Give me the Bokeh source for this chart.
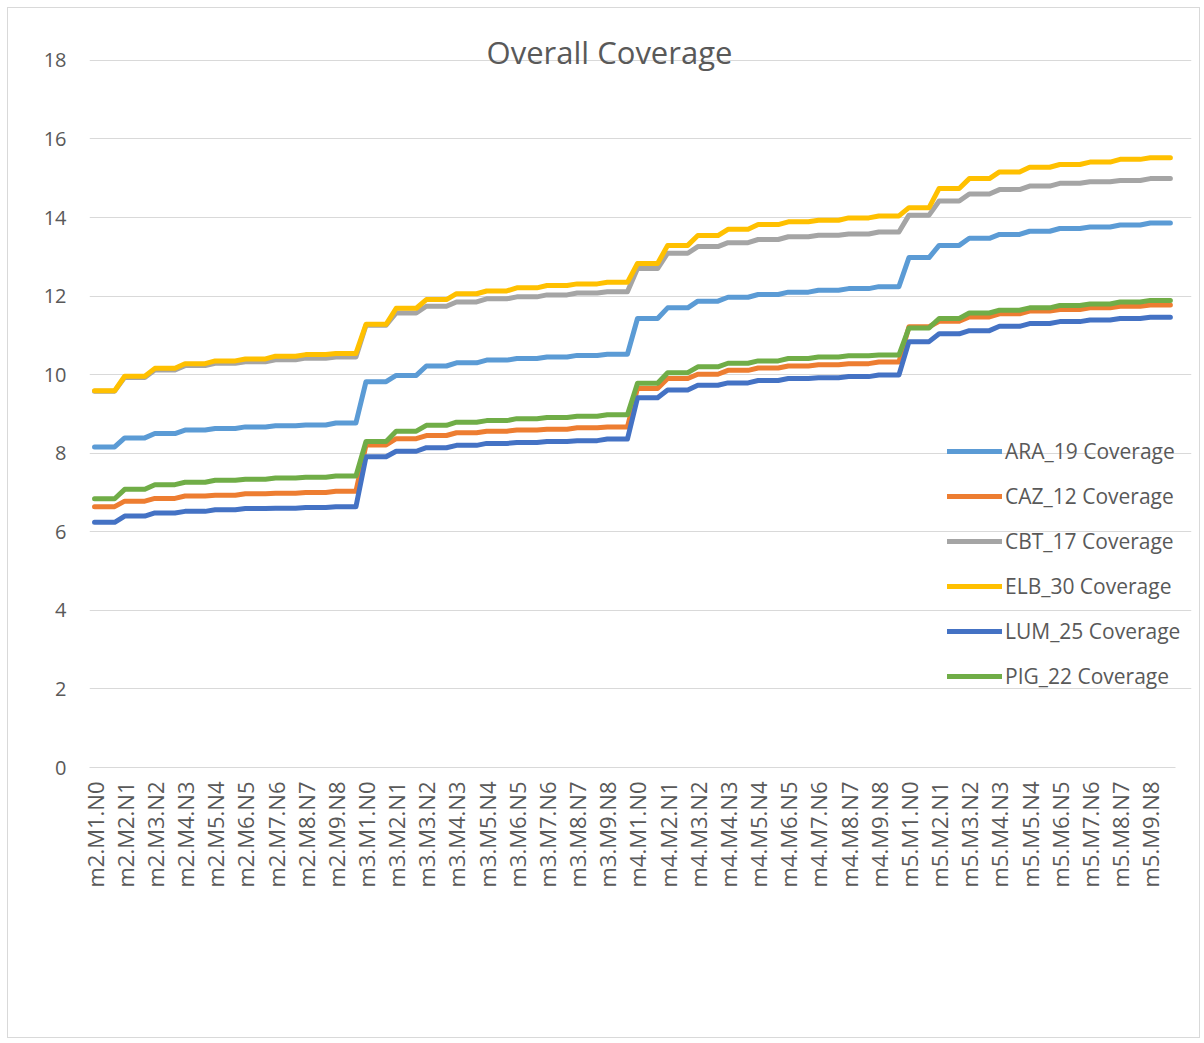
from bokeh.plotting import figure
from bokeh.models import Legend, LegendItem, Label, FixedTicker
from bokeh.embed import file_html
from bokeh.resources import INLINE

# ---- data -------------------------------------------------------------
tick_labels = [
    "m2.M1.N0", "m2.M2.N1", "m2.M3.N2", "m2.M4.N3", "m2.M5.N4", "m2.M6.N5", "m2.M7.N6", "m2.M8.N7", "m2.M9.N8",
    "m3.M1.N0", "m3.M2.N1", "m3.M3.N2", "m3.M4.N3", "m3.M5.N4", "m3.M6.N5", "m3.M7.N6", "m3.M8.N7", "m3.M9.N8",
    "m4.M1.N0", "m4.M2.N1", "m4.M3.N2", "m4.M4.N3", "m4.M5.N4", "m4.M6.N5", "m4.M7.N6", "m4.M8.N7", "m4.M9.N8",
    "m5.M1.N0", "m5.M2.N1", "m5.M3.N2", "m5.M4.N3", "m5.M5.N4", "m5.M6.N5", "m5.M7.N6", "m5.M8.N7", "m5.M9.N8",
]

ara_19 = [8.16, 8.39, 8.50, 8.59, 8.63, 8.67, 8.70, 8.72, 8.77,
          9.82, 9.98, 10.22, 10.30, 10.37, 10.41, 10.45, 10.49, 10.52,
          11.43, 11.70, 11.87, 11.97, 12.04, 12.10, 12.15, 12.19, 12.24,
          12.98, 13.29, 13.47, 13.57, 13.65, 13.72, 13.76, 13.81, 13.86]
caz_12 = [6.64, 6.78, 6.85, 6.91, 6.93, 6.97, 6.98, 7.00, 7.03,
          8.21, 8.37, 8.45, 8.52, 8.56, 8.59, 8.61, 8.65, 8.67,
          9.65, 9.90, 10.01, 10.11, 10.17, 10.22, 10.25, 10.28, 10.32,
          11.22, 11.36, 11.47, 11.55, 11.62, 11.66, 11.70, 11.74, 11.77]
cbt_17 = [9.58, 9.93, 10.12, 10.23, 10.29, 10.33, 10.38, 10.42, 10.45,
          11.26, 11.57, 11.74, 11.85, 11.93, 11.98, 12.03, 12.08, 12.11,
          12.70, 13.09, 13.26, 13.36, 13.44, 13.51, 13.55, 13.58, 13.63,
          14.06, 14.42, 14.60, 14.71, 14.80, 14.87, 14.91, 14.94, 14.99]
elb_30 = [9.59, 9.96, 10.16, 10.28, 10.35, 10.40, 10.47, 10.51, 10.54,
          11.28, 11.69, 11.91, 12.06, 12.13, 12.21, 12.27, 12.31, 12.35,
          12.83, 13.29, 13.54, 13.70, 13.82, 13.89, 13.93, 13.99, 14.04,
          14.25, 14.74, 14.99, 15.16, 15.28, 15.35, 15.41, 15.48, 15.52]
lum_25 = [6.24, 6.40, 6.48, 6.52, 6.56, 6.59, 6.60, 6.62, 6.64,
          7.91, 8.05, 8.14, 8.20, 8.25, 8.27, 8.30, 8.32, 8.36,
          9.41, 9.61, 9.73, 9.79, 9.85, 9.90, 9.92, 9.95, 9.99,
          10.84, 11.04, 11.12, 11.23, 11.30, 11.35, 11.39, 11.43, 11.46]
pig_22 = [6.84, 7.08, 7.20, 7.26, 7.31, 7.34, 7.37, 7.39, 7.42,
          8.30, 8.56, 8.71, 8.79, 8.83, 8.88, 8.91, 8.94, 8.98,
          9.78, 10.05, 10.20, 10.29, 10.35, 10.41, 10.45, 10.48, 10.50,
          11.19, 11.43, 11.57, 11.64, 11.70, 11.76, 11.80, 11.85, 11.89]

series_names = ["ARA_19 Coverage", "CAZ_12 Coverage", "CBT_17 Coverage",
                "ELB_30 Coverage", "LUM_25 Coverage", "PIG_22 Coverage"]
series_values = [ara_19, caz_12, cbt_17, elb_30, lum_25, pig_22]
series_colors = ["#5B9BD5", "#ED7D31", "#A5A5A5", "#FFC000", "#4472C4", "#70AD47"]

# each labelled category is followed by two unlabelled ones holding the same value
CATS_PER_LABEL = 3
n_cats = len(tick_labels) * CATS_PER_LABEL

FONT = "Open Sans"
TXT = "#595959"
GRID = "#d9d9d9"

# frame extends a little above 18 and right of the last category so that
# the overlaid title and legend are not clipped
p = figure(width=1193, height=1031, output_backend="svg", toolbar_location=None,
           x_range=(-0.5, n_cats + 1.1), y_range=(0, 19.04),
           min_border_left=81, min_border_right=10, min_border_top=11, min_border_bottom=272)
p.styles = {"border": "1px solid #d9d9d9", "margin-left": "7px", "margin-top": "7px"}
p.outline_line_color = None
p.background_fill_color = "white"
p.border_fill_color = "white"

items = []
for name, vals, col in zip(series_names, series_values, series_colors):
    xs, ys = [], []
    for i, v in enumerate(vals):
        xs += [i * CATS_PER_LABEL, i * CATS_PER_LABEL + CATS_PER_LABEL - 1]
        ys += [v, v]
    r = p.line(xs, ys, line_color=col, line_width=5, line_cap="round", line_join="round")
    items.append(LegendItem(label=name, renderers=[r]))

# axes
p.xgrid.grid_line_color = None
p.ygrid.grid_line_color = GRID
p.ygrid.grid_line_width = 1

p.yaxis.ticker = FixedTicker(ticks=list(range(0, 19, 2)))
p.yaxis.axis_line_color = None
p.yaxis.major_tick_line_color = None
p.yaxis.minor_tick_line_color = None
p.yaxis.major_tick_out = 0
p.yaxis.major_label_standoff = 23
p.yaxis.major_label_text_font = FONT
p.yaxis.major_label_text_font_size = "20px"
p.yaxis.major_label_text_color = TXT

tick_pos = [i * CATS_PER_LABEL for i in range(len(tick_labels))]
p.xaxis.ticker = FixedTicker(ticks=tick_pos)
p.xaxis.bounds = (-0.5, n_cats - 0.5)
p.xaxis.major_label_overrides = {t: lab for t, lab in zip(tick_pos, tick_labels)}
p.xaxis.minor_tick_line_color = None
p.xaxis.major_tick_line_color = None
p.xaxis.major_tick_out = 0
p.xaxis.major_tick_in = 0
p.xaxis.axis_line_color = GRID
p.xaxis.major_label_orientation = 3.14159265 / 2
p.xaxis.major_label_standoff = 14
p.xaxis.major_label_text_font = FONT
p.xaxis.major_label_text_font_size = "22px"
p.xaxis.major_label_text_color = TXT

legend = Legend(items=items, location=(858, 77), orientation="vertical",
                glyph_width=55, glyph_height=20, label_height=20, spacing=17,
                label_standoff=3, padding=0, margin=0,
                background_fill_alpha=0, border_line_color=None,
                label_text_font=FONT, label_text_font_size="21px",
                label_text_color=TXT)
p.add_layout(legend)

title = Label(x=520, y=716, x_units="screen", y_units="screen", text="Overall Coverage",
              text_align="center", text_baseline="middle",
              text_font=FONT, text_font_size="31px", text_color=TXT)
p.add_layout(title)

open("out.html", "w").write(file_html(p, INLINE))
